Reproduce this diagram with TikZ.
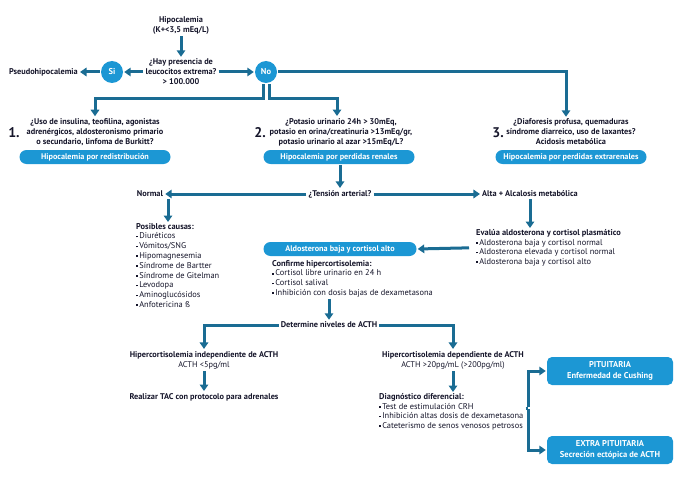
\documentclass[tikz,border=0pt]{standalone}
\usepackage{fontspec}
\setmainfont{PT Sans}
\usetikzlibrary{arrows.meta,calc}
\definecolor{arrc}{HTML}{1A6C93}
\definecolor{pillc}{HTML}{1C97D4}
\definecolor{tx}{HTML}{15152A}
\newcommand\bul{\raisebox{1.5pt}{\rule{1.7pt}{1.7pt}}\,}
\tikzset{
  txt/.style={font=\fontsize{8.3}{10}\selectfont\bfseries, align=center, inner sep=1pt, text=tx},
  lst/.style={font=\fontsize{8.4}{9.8}\selectfont, align=left, inner sep=0pt, text=tx, anchor=north west},
  pill/.style={fill=pillc, rounded corners=7pt, minimum width=151pt, minimum height=14pt, inner sep=0pt, text=white, font=\fontsize{8.2}{9}\selectfont\bfseries},
  bigbox/.style={fill=pillc, rounded corners=5pt, minimum width=126pt, minimum height=28pt, inner sep=0pt, text=white, align=center, font=\fontsize{8.5}{10.5}\selectfont\bfseries},
  circ/.style={circle, fill=pillc, minimum size=22pt, inner sep=0pt, text=white, font=\fontsize{8.5}{9}\selectfont\bfseries},
  num/.style={font=\fontsize{14}{14}\selectfont\bfseries, text=tx, inner sep=0pt},
  ln/.style={line width=3pt, draw=arrc},
  arr/.style={ln, -{Triangle[width=8.5pt,length=6.5pt]}, shorten >=1pt, shorten <=1pt},
}
\begin{document}
\begin{tikzpicture}[x=1pt,y=-1pt]
\useasboundingbox (0,0) rectangle (682,492);
% top
\node[txt] (hipo) at (181,25) {Hipocalemia\\(K+<3,5 mEq/L)};
\node[txt] (hay) at (181,72) {¿Hay presencia de\\leucocitos extrema?\\> 100.000};
\node[circ] (si) at (112,72) {Si};
\node[circ] (no) at (266,72) {No};
\node[txt,anchor=east] (pseudo) at (79,72) {Pseudohipocalemia};
\draw[arr] (hipo.south) -- (hay.north);
\draw[arr] (hay.west) -- (si.east);
\draw[arr] (si.west) -- (pseudo.east);
\draw[arr] (hay.east) -- (no.west);
% three options
\node[txt] (op1) at (95,132) {¿Uso de insulina, teofilina, agonistas\\adrenérgicos, aldosteronismo primario\\o secundario, linfoma de Burkitt?};
\node[txt] (op2) at (341,132) {¿Potasio urinario 24h > 30mEq,\\potasio en orina/creatinuria >13mEq/gr,\\potasio urinario al azar >15mEq/L?};
\node[txt] (op3) at (571,132) {¿Diaforesis profusa, quemaduras\\síndrome diarreico, uso de laxantes?\\Acidosis metabólica};
\node[num] (n1) at (14,133) {1.};
\node[num] (n2) at (260,133) {2.};
\node[num] (n3) at (498,133) {3.};
\node[pill] (p1) at (95,157) {Hipocalemia por redistribución};
\node[pill] (p2) at (339,157) {Hipocalemia por perdidas renales};
\node[pill] (p3) at (571,157) {Hipocalemia por perdidas extrarenales};
\draw[arr] (no.east) -| ([xshift=-5pt]op3.north);
\draw[arr] ([xshift=-3pt]no.south) -- ++(0,15) -| (op1.north);
\draw[arr] ([xshift=3pt]no.south) -- ++(0,15) -| ([xshift=-4pt]op2.north);
% tension
\node[txt] (ten) at (340,194) {¿Tensión arterial?};
\node[txt] (normal) at (150,194) {Normal};
\node[txt] (alta) at (530,194) {Alta + Alcalosis metabólica};
\draw[arr] (p2.south -| ten.north) -- (ten.north);
\draw[arr] (ten.west) -- (normal.east);
\draw[arr] (ten.east) -- (alta.west);
\node[lst] (causas) at (136,223) {\textbf{Posibles causas:}\\\bul Diuréticos\\\bul Vómitos/SNG\\\bul Hipomagnesemia\\\bul Síndrome de Bartter\\\bul Síndrome de Gitelman\\\bul Levodopa\\\bul Aminoglucósidos\\\bul Anfotericina ß};
\draw[arr] ([xshift=18pt]normal.south) -- ([xshift=18pt]normal.south |- causas.north);
\node[lst] (evalua) at (476,229) {\textbf{Evalúa aldosterona y cortisol plasmático}\\\bul Aldosterona baja y cortisol normal\\\bul Aldosterona elevada y cortisol normal\\\bul Aldosterona baja y cortisol alto};
\draw[arr] (alta.south) -- (alta.south |- evalua.north);
\node[pill,minimum width=153pt] (pa) at (340,249) {Aldosterona baja y cortisol alto};
\draw[arr] ([xshift=-6pt]evalua.west) -- (pa.east);
\node[lst] (conf) at (272,260) {\textbf{Confirme hipercortisolemia:}\\\bul Cortisol libre urinario en 24 h\\\bul Cortisol salival\\\bul Inhibición con dosis bajas de dexametasona};
\node[txt] (det) at (329,325) {Determine niveles de ACTH};
\draw[arr] (det.north |- conf.south) -- (det.north);
% ACTH branches
\node[txt] (indep) at (204,360) {Hipercortisolemia independiente de ACTH\\\mdseries ACTH <5pg/ml};
\node[txt] (dep) at (453,360) {Hipercortisolemia dependiente de ACTH\\\mdseries ACTH >20pg/mL (>200pg/ml)};
\draw[arr] (det.west) -| (indep.north);
\draw[arr] (det.east) -| (dep.north);
\node[txt] (tac) at (204,397) {Realizar TAC con protocolo para adrenales};
\draw[arr] (indep.south) -- (tac.north);
\node[lst] (diag) at (379,393) {\textbf{Diagnóstico diferencial:}\\\bul Test de estimulación CRH\\\bul Inhibición altas dosis de dexametasona\\\bul Cateterismo de senos venosos petrosos};
\draw[arr] (dep.south) -- (dep.south |- diag.north);
\node[bigbox] (pit) at (610,371) {PITUITARIA\\Enfermedad de Cushing};
\node[bigbox] (ext) at (610,450) {EXTRA PITUITARIA\\Secreción ectópica de ACTH};
\coordinate (brk) at (528,408);
\draw[ln] ([xshift=2pt]diag.east |- brk) -- (brk);
\draw[arr] (brk) |- (pit.west);
\draw[arr] (brk) |- (ext.west);
\end{tikzpicture}
\end{document}
